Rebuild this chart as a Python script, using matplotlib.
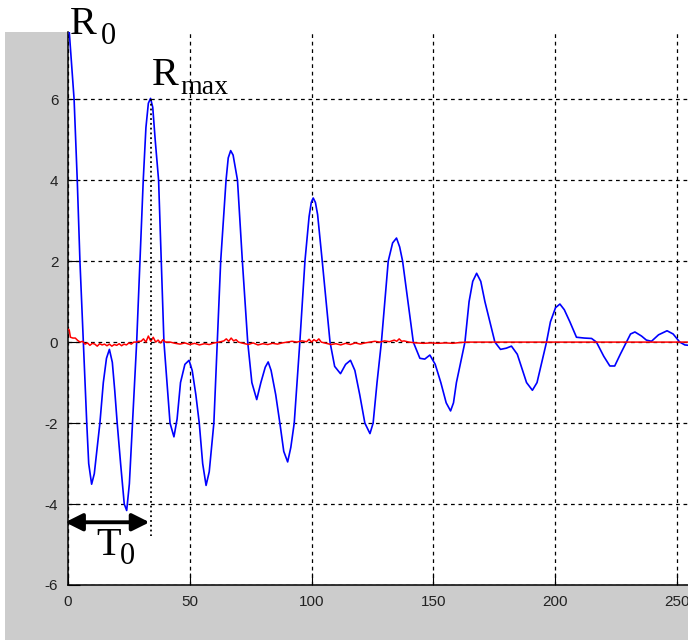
import matplotlib
matplotlib.use('Agg')
import matplotlib.pyplot as plt
from matplotlib.patches import Rectangle

plt.rcParams['axes.unicode_minus'] = False

# --- data ---
blue_x = [0, 1.2, 2.5, 3.8, 4.9, 6.3, 7.7, 8.5, 9.7, 10.8, 12.0, 13.1, 14.5, 15.8, 17.0,
          18.2, 19.2, 20.2, 21.6, 23.1, 24.1, 25.2, 26.5, 28.2, 30.2, 30.9, 32.0, 33.0,
          33.9, 34.8, 35.8, 37.2, 39.4, 41.9, 43.5, 44.8, 46.2, 48.0, 49.7, 51.0, 52.5,
          53.9, 55.3, 56.7, 58.0, 59.9, 61.3, 62.7, 64.9, 65.8, 66.8, 67.8, 68.6, 69.6,
          71.6, 73.8, 75.5, 77.5, 79.2, 81.0, 82.2, 83.4, 85.3, 87.0, 88.6, 90.2, 91.5,
          92.9, 95.2, 97.3, 99.0, 99.9, 100.7, 101.6, 102.5, 104.4, 107.6, 109.5, 111.9,
          114.0, 116.0, 117.8, 119.8, 121.9, 124.0, 125.3, 126.9, 128.7, 131.5, 133.3,
          134.9, 136.2, 137.4, 139.6, 141.8, 144.5, 146.5, 148.6, 150.8, 153.1, 155.3,
          157.1, 158.3, 159.5, 163.0, 164.7, 166.2, 167.8, 169.5, 171.2, 175.3, 177.6,
          180.0, 182.1, 184.5, 188.3, 190.7, 192.6, 196.5, 198.1, 200.2, 202.0, 203.8,
          206.1, 208.8, 212.0, 215.0, 217.0, 220.0, 222.5, 224.5, 226.8, 229.3, 231.0,
          232.8, 235.5, 237.5, 239.6, 242.5, 246.0, 248.5, 251.2, 253.3, 255.0]
blue_y = [8.1, 7.1, 6.0, 4.0, 2.0, 0.0, -2.0, -3.0, -3.51, -3.25, -2.6, -2.0, -1.0, -0.4, -0.18,
          -0.5, -1.2, -2.0, -3.0, -4.0, -4.16, -3.5, -2.0, 0.0, 3.0, 4.0, 5.3, 5.9,
          6.02, 5.8, 5.0, 4.0, 0.0, -2.0, -2.34, -1.9, -1.0, -0.55, -0.45, -0.7, -1.3,
          -2.0, -3.0, -3.54, -3.2, -2.0, 0.0, 2.0, 4.0, 4.55, 4.73, 4.62, 4.35, 4.0,
          2.0, 0.0, -1.0, -1.42, -1.0, -0.62, -0.49, -0.7, -1.3, -2.0, -2.7, -2.96, -2.6,
          -2.0, 0.0, 2.0, 3.1, 3.45, 3.56, 3.45, 3.15, 2.0, 0.0, -0.6, -0.78,
          -0.55, -0.45, -0.7, -1.3, -2.0, -2.26, -2.0, -1.0, 0.0, 2.0, 2.45,
          2.57, 2.35, 2.0, 1.0, 0.0, -0.40, -0.42, -0.32, -0.55, -1.0, -1.5,
          -1.70, -1.5, -1.0, 0.0, 1.0, 1.5, 1.70, 1.5, 1.0, 0.0, -0.18,
          -0.15, -0.10, -0.3, -1.0, -1.19, -1.0, 0.0, 0.5, 0.85, 0.94, 0.8,
          0.5, 0.12, 0.1, 0.09, 0.0, -0.35, -0.59, -0.59, -0.3, 0.0, 0.2,
          0.25, 0.15, 0.05, 0.02, 0.18, 0.28, 0.2, 0.0, -0.07, -0.08]

red_x = [0, 0.5, 1, 2, 3, 4, 5, 6, 7, 8, 9, 10, 11, 12, 13, 14, 15, 16, 17, 18, 19, 20,
         21, 22, 23, 24, 25, 26, 27, 28, 29, 30, 31, 32, 33, 34, 35, 36, 37, 38, 39, 40,
         42, 44, 46, 48, 50, 52, 54, 56, 58, 60, 62, 64, 65, 66, 67, 68, 69, 70, 72, 74,
         76, 78, 80, 82, 84, 86, 88, 90, 92, 94, 96, 98, 99, 100, 101, 102, 103, 104,
         106, 108, 110, 112, 114, 116, 118, 120, 122, 124, 126, 128, 130, 132, 134, 135,
         136, 137, 138, 140, 143, 146, 149, 152, 155, 158, 161, 164, 167, 170, 255]
red_y = [0.32, 0.3, 0.12, 0.1, 0.1, 0.04, 0.0, 0.02, -0.05, -0.02, -0.08, -0.03, -0.05,
         -0.1, -0.04, -0.07, -0.05, -0.09, -0.05, -0.1, -0.06, -0.08, -0.04, -0.09, -0.05,
         -0.07, -0.02, -0.05, 0.0, 0.0, 0.02, 0.02, 0.08, 0.0, 0.15, 0.02, 0.12, 0.0, 0.05,
         -0.02, 0.06, 0.0, 0.0, -0.03, -0.05, -0.02, -0.06, -0.03, -0.07, -0.04, -0.06,
         -0.02, 0.0, 0.03, 0.08, 0.02, 0.1, 0.03, 0.06, 0.0, -0.03, -0.06, -0.02, -0.07,
         -0.04, -0.06, -0.03, -0.05, -0.02, 0.0, 0.02, 0.0, 0.03, 0.01, 0.07, 0.0, 0.06,
         0.02, 0.08, 0.0, -0.03, -0.06, -0.04, -0.07, -0.03, -0.06, -0.02, -0.05, -0.02,
         0.0, 0.02, 0.0, 0.03, 0.01, 0.05, 0.02, 0.08, 0.02, 0.03, 0.0, -0.02, -0.03,
         -0.02, -0.03, -0.02, -0.03, -0.01, 0.0, 0.0, 0.0, 0.0]

x_ticks = [0, 50, 100, 150, 200, 250]
y_ticks = [-6, -4, -2, 0, 2, 4, 6]

# --- figure, cropped MATLAB-style window ---
fig = plt.figure(figsize=(6.88, 6.4), dpi=100, facecolor='white')
bg = Rectangle((5 / 688, 0), 1, (640 - 32) / 640, transform=fig.transFigure,
               facecolor='#cccccc', edgecolor='none', zorder=-10)
fig.add_artist(bg)

ax = fig.add_axes([68 / 688, 55 / 640, 620 / 688, 553 / 640])
ax.set_zorder(1)
ax.set_facecolor('white')
ax.set_xlim(0, 254.6)
ax.set_ylim(-6, 7.66)

ax.plot(blue_x, blue_y, color='#0000ff', lw=1.2, zorder=3)
ax.plot(red_x, red_y, color='#ff0000', lw=1.1, zorder=4)

ax.set_xticks(x_ticks)
ax.set_yticks(y_ticks)
ax.grid(True, color='black', linestyle=(0, (3, 3)), lw=0.9)
ax.tick_params(direction='in', length=8.5, width=0.8, labelsize=11, labelcolor='#222222')
ax.tick_params(axis='x', pad=7)
ax.tick_params(axis='y', pad=7)
for lab in ax.get_xticklabels() + ax.get_yticklabels():
    lab.set_fontfamily('Liberation Sans')
ax.spines['top'].set_visible(False)
ax.spines['right'].set_visible(False)
ax.spines['left'].set_linewidth(1.1)
ax.spines['bottom'].set_linewidth(1.1)

# --- annotations ---
ax.plot([33.9, 33.9], [6.0, -4.8], color='black', linestyle=':', lw=1.3, zorder=5,
        clip_on=False)
ax.annotate('', xy=(-2.3, -4.45), xytext=(34.6, -4.45),
            arrowprops=dict(arrowstyle='<|-|>', lw=2.8, color='black', mutation_scale=26),
            annotation_clip=False, zorder=6)

serif = 'Liberation Serif'
ax.text(0.8, 7.6, 'R', fontsize=29, family=serif, va='baseline', clip_on=False)
ax.text(13.4, 7.37, '0', fontsize=22, family=serif, va='baseline', clip_on=False)
ax.text(34.6, 6.36, 'R', fontsize=29, family=serif, va='baseline')
ax.text(46.1, 6.14, 'max', fontsize=20, family=serif, va='baseline')
ax.text(11.6, -5.25, 'T', fontsize=29, family=serif, va='baseline')
ax.text(21.2, -5.47, '0', fontsize=22, family=serif, va='baseline')

plt.savefig('out.png', dpi=100, facecolor=fig.get_facecolor())
plt.close()
